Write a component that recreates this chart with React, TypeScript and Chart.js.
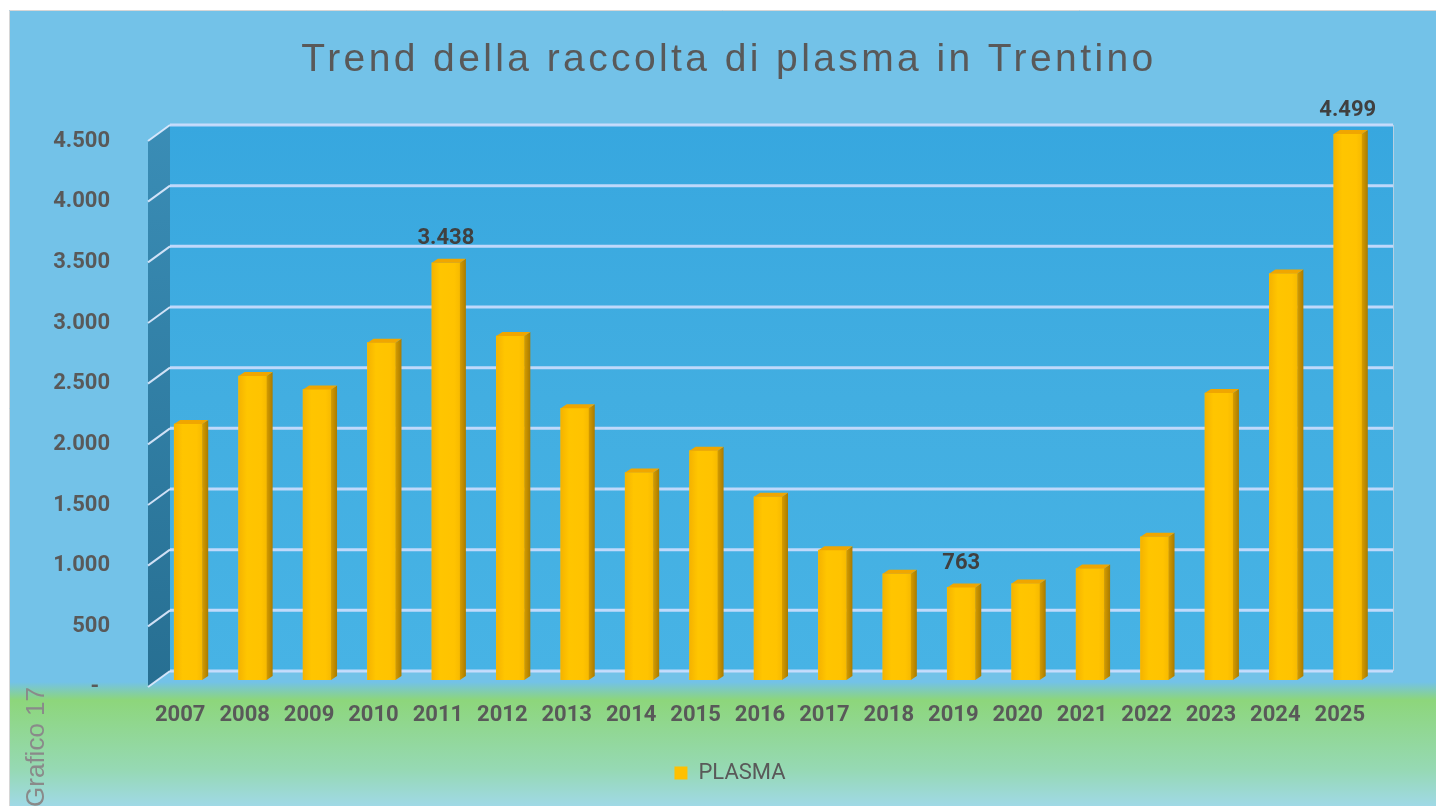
import { useEffect, useRef } from 'react';
import { Chart, registerables } from 'chart.js';

Chart.register(...registerables);

const chartTitle = 'Trend della raccolta di plasma in Trentino';
const sideNote = 'Grafico 17';
const seriesName = 'PLASMA';
const years = ['2007', '2008', '2009', '2010', '2011', '2012', '2013', '2014', '2015', '2016', '2017', '2018', '2019', '2020', '2021', '2022', '2023', '2024', '2025'];
const plasma = [2110, 2505, 2395, 2780, 3438, 2835, 2240, 1710, 1890, 1510, 1070, 876, 763, 795, 918, 1180, 2365, 3350, 4499];
const labelledYears = ['2011', '2019', '2025'];
const yMin = 0;
const yMax = 4500;
const yStep = 500;

const fmt = (v: number) => (v === 0 ? '-  ' : String(Math.round(v)).replace(/\B(?=(\d{3})+(?!\d))/g, '.'));

const deco = {
  id: 'deco',
  beforeDraw(chart: any) {
    const { ctx, width, height } = chart;
    ctx.save();
    ctx.fillStyle = '#ffffff';
    ctx.fillRect(0, 0, width, height);
    const g = ctx.createLinearGradient(0, 0, 0, 806);
    g.addColorStop(0, '#73C2E8');
    g.addColorStop(682 / 806, '#73C2E8');
    g.addColorStop(700 / 806, '#8DD67B');
    g.addColorStop(0.955, '#96D9B4');
    g.addColorStop(1, '#A0D9E6');
    ctx.fillStyle = g;
    ctx.fillRect(9, 10, width - 9, height - 10);
    ctx.strokeStyle = '#D6D6D6';
    ctx.lineWidth = 1;
    ctx.beginPath();
    ctx.moveTo(9.5, height);
    ctx.lineTo(9.5, 10.5);
    ctx.lineTo(width, 10.5);
    ctx.stroke();
    ctx.restore();
  },
  beforeDatasetsDraw(chart: any) {
    const { ctx, chartArea } = chart;
    const ys = chart.scales.y;
    const L = chartArea.left;
    const R = chartArea.right;
    const bx0 = L + 14;
    const bx1 = R + 13;
    const fx = L - 8;
    const back = (v: number) => ys.getPixelForValue(v) - 9;
    const front = (v: number) => ys.getPixelForValue(v) + 7;
    ctx.save();
    const bg = ctx.createLinearGradient(0, back(yMax), 0, back(yMin));
    bg.addColorStop(0, '#37A7DF');
    bg.addColorStop(0.5, '#42AEE1');
    bg.addColorStop(1, '#47B3E5');
    ctx.fillStyle = bg;
    ctx.fillRect(bx0, back(yMax), bx1 - bx0, back(yMin) - back(yMax));
    const sg = ctx.createLinearGradient(0, back(yMax), 0, front(yMin));
    sg.addColorStop(0, '#3A8DB6');
    sg.addColorStop(1, '#276F92');
    ctx.fillStyle = sg;
    ctx.beginPath();
    ctx.moveTo(fx, front(yMax));
    ctx.lineTo(bx0, back(yMax));
    ctx.lineTo(bx0, back(yMin));
    ctx.lineTo(fx, front(yMin));
    ctx.closePath();
    ctx.fill();
    ctx.strokeStyle = 'rgba(190,210,225,0.9)';
    ctx.lineWidth = 1;
    ctx.beginPath();
    ctx.moveTo(bx1 + 0.5, back(yMax));
    ctx.lineTo(bx1 + 0.5, back(yMin));
    ctx.stroke();
    for (const t of ys.ticks) {
      const v = t.value;
      ctx.strokeStyle = 'rgba(214,224,255,0.85)';
      ctx.lineWidth = 3;
      ctx.beginPath();
      ctx.moveTo(bx0, back(v));
      ctx.lineTo(bx1, back(v));
      ctx.stroke();
      ctx.strokeStyle = 'rgba(226,236,255,0.9)';
      ctx.lineWidth = 2;
      ctx.beginPath();
      ctx.moveTo(fx, front(v));
      ctx.lineTo(bx0, back(v));
      ctx.stroke();
    }
    ctx.restore();
  },
  afterDatasetsDraw(chart: any) {
    const { ctx } = chart;
    const meta = chart.getDatasetMeta(0);
    const dx = 6;
    const dy = 4;
    ctx.save();
    meta.data.forEach((el: any, i: number) => {
      const { x, y, base, width } = el.getProps(['x', 'y', 'base', 'width'], true);
      const l = x - width / 2;
      const r = x + width / 2;
      const fg = ctx.createLinearGradient(l, 0, r, 0);
      fg.addColorStop(0, '#F5B300');
      fg.addColorStop(0.3, '#FFC500');
      fg.addColorStop(0.8, '#FFC300');
      fg.addColorStop(1, '#F7BA00');
      ctx.fillStyle = fg;
      ctx.fillRect(l, y, width, base - y);
      const sg = ctx.createLinearGradient(r, 0, r + dx, 0);
      sg.addColorStop(0, '#D59C00');
      sg.addColorStop(1, '#A97B00');
      ctx.fillStyle = sg;
      ctx.beginPath();
      ctx.moveTo(r, y);
      ctx.lineTo(r + dx, y - dy);
      ctx.lineTo(r + dx, base - dy);
      ctx.lineTo(r, base);
      ctx.closePath();
      ctx.fill();
      ctx.fillStyle = '#F0A600';
      ctx.beginPath();
      ctx.moveTo(l, y);
      ctx.lineTo(l + dx, y - dy);
      ctx.lineTo(r + dx, y - dy);
      ctx.lineTo(r, y);
      ctx.closePath();
      ctx.fill();
      if (labelledYears.includes(years[i])) {
        ctx.fillStyle = '#404040';
        ctx.font = 'bold 22px Roboto';
        ctx.textAlign = 'center';
        ctx.textBaseline = 'middle';
        ctx.fillText(fmt(plasma[i]), x, y - 24);
      }
    });
    ctx.restore();
  },
  afterDraw(chart: any) {
    const { ctx } = chart;
    ctx.save();
    ctx.fillStyle = '#595959';
    ctx.font = '39px "Liberation Sans"';
    (ctx as any).letterSpacing = '3.4px';
    ctx.textAlign = 'center';
    ctx.textBaseline = 'alphabetic';
    ctx.fillText(chartTitle, 729, 71);
    (ctx as any).letterSpacing = '0px';
    ctx.translate(44, 687);
    ctx.rotate(-Math.PI / 2);
    ctx.fillStyle = '#8A8A8A';
    ctx.font = '26px "Liberation Sans"';
    ctx.textAlign = 'right';
    ctx.fillText(sideNote, 0, 0);
    ctx.restore();
  },
};

export default function App() {
  const ref = useRef<HTMLCanvasElement | null>(null);
  useEffect(() => {
    if (!ref.current) return;
    const tickFont = { family: 'Roboto', size: 22, weight: 'bold' as const };
    const chart = new Chart(ref.current, {
      type: 'bar',
      data: {
        labels: years,
        datasets: [
          {
            label: seriesName,
            data: plasma,
            backgroundColor: '#FFC000',
            borderWidth: 0,
            barThickness: 28,
          },
        ],
      },
      options: {
        responsive: false,
        animation: false,
        devicePixelRatio: 1,
        layout: { padding: { top: 134, left: 24, right: 0, bottom: 12 } },
        plugins: {
          title: { display: false },
          tooltip: { enabled: false },
          legend: {
            position: 'bottom',
            labels: {
              boxWidth: 13,
              boxHeight: 13,
              padding: 10,
              color: '#595959',
              font: { family: 'Roboto', size: 22 },
            },
          },
        },
        scales: {
          x: {
            grid: { display: false, drawTicks: false },
            border: { display: false },
            ticks: {
              color: '#595959',
              font: tickFont,
              labelOffset: -8,
              padding: 22,
              maxRotation: 0,
              autoSkip: false,
            },
            afterFit: (s: any) => {
              s.height = 72;
            },
          },
          y: {
            min: yMin,
            max: yMax,
            grid: { display: false, drawTicks: false },
            border: { display: false },
            ticks: {
              stepSize: yStep,
              callback: (v: any) => fmt(Number(v)),
              color: '#595959',
              font: tickFont,
              padding: 46,
              labelOffset: 7,
            },
            afterFit: (s: any) => {
              s.width = 132;
            },
          },
          yR: {
            position: 'right',
            display: true,
            grid: { display: false, drawTicks: false },
            border: { display: false },
            ticks: { display: false },
            afterFit: (s: any) => {
              s.width = 56;
            },
          },
        },
      } as any,
      plugins: [deco],
    });
    return () => chart.destroy();
  }, []);
  return (
    <>
      <style>{`html,body{margin:0;padding:0;overflow:hidden;}`}</style>
      <canvas ref={ref} width={1436} height={806} style={{ display: 'block' }} />
    </>
  );
}
